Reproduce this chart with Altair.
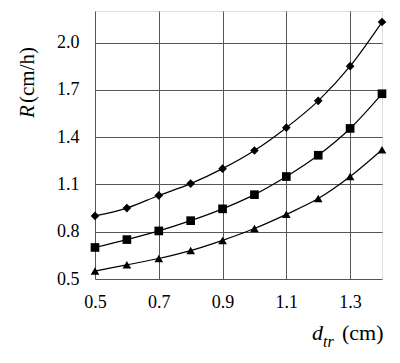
import altair as alt
import pandas as pd

d_tr = [0.5, 0.6, 0.7, 0.8, 0.9, 1.0, 1.1, 1.2, 1.3, 1.4]
r_diamond = [0.90, 0.95, 1.03, 1.105, 1.20, 1.315, 1.46, 1.63, 1.85, 2.13]
r_square = [0.70, 0.75, 0.805, 0.87, 0.945, 1.035, 1.15, 1.285, 1.455, 1.675]
r_triangle = [0.55, 0.59, 0.63, 0.68, 0.745, 0.82, 0.91, 1.01, 1.15, 1.32]
series = ["diamond", "square", "triangle"]
x_ticks = [0.5, 0.7, 0.9, 1.1, 1.3]
y_ticks = [0.5, 0.8, 1.1, 1.4, 1.7, 2.0]

rows = []
for name, vals in zip(series, [r_diamond, r_square, r_triangle]):
    for x, y in zip(d_tr, vals):
        rows.append({"d": x, "R": y, "s": name})
df = pd.DataFrame(rows)

FONT = "Times New Roman"
W, H = 287, 268

xs = alt.Scale(domain=[0.5, 1.4], nice=False, zero=False)
ys = alt.Scale(domain=[0.5, 2.2], nice=False, zero=False)

xax = alt.Axis(values=x_ticks, format=".1f", grid=True, gridColor="#555555", gridWidth=1,
               gridOpacity=1, domain=False, ticks=False, labelPadding=14, labelFlush=False,
               labelFont=FONT, labelFontSize=18, labelColor="#000000", title=None)
yax = alt.Axis(values=y_ticks, format=".1f", grid=True, gridColor="#555555", gridWidth=1,
               gridOpacity=1, domain=False, ticks=False, labelPadding=16, labelFlush=False,
               labelFont=FONT, labelFontSize=18, labelColor="#000000", title=None)

base = alt.Chart(df)
lines = base.mark_line(color="black", strokeWidth=1.2, interpolate="monotone").encode(
    x=alt.X("d:Q", scale=xs, axis=xax),
    y=alt.Y("R:Q", scale=ys, axis=yax),
    detail="s:N",
)
points = base.mark_point(filled=True, color="black", opacity=1, size=75).encode(
    x=alt.X("d:Q", scale=xs),
    y=alt.Y("R:Q", scale=ys),
    shape=alt.Shape("s:N", scale=alt.Scale(domain=series, range=["diamond", "square", "triangle-up"]),
                    legend=None),
)

lbl = pd.DataFrame({"k": [0]})
def txt(text, x, y, size, style="normal", angle=0, align="left", baseline="alphabetic"):
    return alt.Chart(lbl).mark_text(text=text, font=FONT, fontSize=size, fontStyle=style,
                                    angle=angle, align=align, baseline=baseline,
                                    color="black").encode(x=alt.value(x), y=alt.value(y))

titles = [
    txt("R", -67, 107, 21, "italic", 270, "left", "middle"),
    txt("(cm/h)", -67, 92, 21, "normal", 270, "left", "middle"),
    txt("d", 217, 329, 22, "italic"),
    txt("tr", 228, 336, 16, "italic"),
    txt("(cm)", 247, 329, 22),
]

chart = alt.layer(lines, points, *titles).properties(
    width=W, height=H,
    autosize=alt.AutoSizeParams(type="none"),
    padding={"left": 87, "top": 3, "right": 10, "bottom": 76},
).configure_view(stroke="black", strokeWidth=1.5).configure(background="white")

chart.save("out.html", embed_options={"renderer": "svg", "actions": False})
